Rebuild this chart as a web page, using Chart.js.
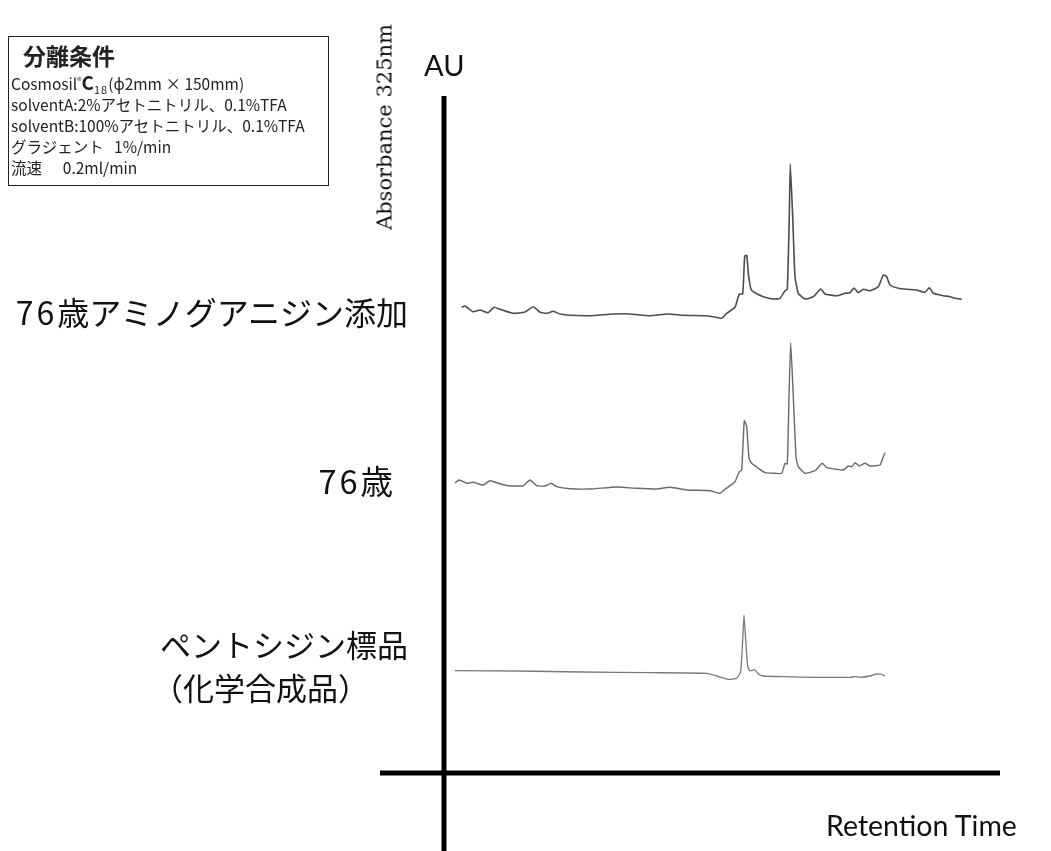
<!DOCTYPE html>
<html lang="ja">
<head>
<meta charset="utf-8">
<script src="https://cdn.jsdelivr.net/npm/chart.js@4.4.1/dist/chart.umd.min.js"></script>
<style>
  html, body { margin: 0; padding: 0; background: #fff; }
  #wrap { position: relative; width: 1051px; height: 851px; overflow: hidden; }
  #chart { position: absolute; left: 0; top: 0; }
  .lbl { position: absolute; white-space: nowrap; color: #111; line-height: 1; }
  .jp { font-family: "Noto Sans CJK JP", "Noto Sans", sans-serif; }
  .num { letter-spacing: 3px; }
  #cond { position: absolute; left: 8px; top: 36px; width: 319px; height: 148px; border: 1px solid #222; }
  #cond .row { position: absolute; left: 2px; font-size: 15.5px; white-space: nowrap; color: #222; line-height: 1; }
  .sup { position: relative; top: -6px; font-size: 9px; }
  .sub { position: relative; top: 4px; font-size: 11px; letter-spacing: 1px; }
</style>
</head>
<body>
<div id="wrap">
  <canvas id="chart" width="1051" height="851"></canvas>

  <div id="cond" class="jp">
    <div class="row" style="left:14px; top:7px; font-size:23px; font-weight:bold;">分離条件</div>
    <div class="row" style="top:35px;">Cosmosil<span class="sup">®</span><b style="font-size:19px;">C</b><span class="sub">18</span>(ϕ2mm × 150mm)</div>
    <div class="row" style="top:60px;">solventA:2%アセトニトリル、0.1%TFA</div>
    <div class="row" style="top:81px;">solventB:100%アセトニトリル、0.1%TFA</div>
    <div class="row" style="top:102px;">グラジェント&nbsp;&nbsp;&nbsp;1%/min</div>
    <div class="row" style="top:123px;">流速&nbsp;&nbsp;&nbsp;&nbsp;&nbsp;&nbsp;0.2ml/min</div>
  </div>

  <div class="lbl" style="font-family:'DejaVu Serif', serif; font-size:21px; left:385px; top:127px; transform: translate(-50%, -50%) rotate(-90deg);">Absorbance 325nm</div>
  <div class="lbl" style="font-family:Lato, 'Open Sans', sans-serif; font-size:29px; left:424px; top:50px;">AU</div>
  <div class="lbl" style="font-family:Lato, 'Open Sans', sans-serif; font-size:28.5px; left:826px; top:811px;">Retention Time</div>

  <div class="lbl jp" style="font-size:32px; right:643px; top:295px;"><span class="num">76</span>歳アミノグアニジン添加</div>
  <div class="lbl jp" style="font-size:32.5px; right:658px; top:464px;"><span class="num">76</span>歳</div>
  <div class="lbl jp" style="font-size:31px; right:643px; top:628px;">ペントシジン標品</div>
  <div class="lbl jp" style="font-size:31px; left:152px; top:671px;">（化学合成品）</div>
</div>

<script>
// --- 1. data (retention time, absorbance; arbitrary units) ---

// 76歳アミノグアニジン添加
const addedTime = [1.77, 2.1, 2.9, 3.6, 4.4, 5.0, 5.6, 6.9, 8.1, 8.93, 9.6, 10.27, 10.93, 11.6, 12.6, 14.6,
  16.93, 18.6, 20.6, 22.43, 23.93, 25.93, 26.93, 27.77, 28.27, 29.1, 29.53, 29.87, 30.07, 30.27, 30.47,
  30.73, 31.1, 31.93, 32.93, 33.6, 34.1, 34.33, 34.53, 34.63, 34.87, 35.1, 35.43, 36.1, 36.93, 37.67,
  38.1, 39.27, 40.1, 40.6, 41.0, 41.43, 41.93, 42.6, 43.43, 43.93, 44.27, 44.6, 45.43, 46.27, 47.27,
  48.1, 48.53, 48.93, 49.93, 50.6, 51.1, 51.77];
const addedAU = [46.57, 46.7, 46.13, 46.3, 46.03, 46.57, 46.37, 45.97, 46.1, 46.63, 46.07, 45.97, 46.17, 45.9, 45.77, 45.73,
  45.9, 45.9, 45.73, 45.9, 45.77, 45.73, 45.63, 45.47, 45.97, 46.57, 47.9, 47.9, 51.7, 51.77, 49.63,
  48.3, 48.03, 47.63, 47.4, 47.47, 48.23, 48.37, 55.63, 60.9, 55.63, 49.63, 47.97, 47.4, 47.63, 48.4,
  47.9, 47.73, 47.97, 48.03, 48.5, 48.03, 48.37, 48.23, 48.63, 49.8, 49.63, 48.8, 48.47, 48.37, 48.3,
  48.07, 48.53, 47.97, 47.73, 47.63, 47.47, 47.37];

// 76歳
const agedTime = [1.1, 1.53, 2.27, 2.93, 3.93, 4.6, 5.43, 6.43, 7.93, 8.6, 9.27, 10.1, 10.7, 11.27, 12.6, 14.6,
  17.27, 19.27, 21.27, 22.6, 24.27, 26.6, 27.6, 28.1, 29.1, 29.53, 29.77, 30.03, 30.27, 30.5, 30.77,
  31.43, 32.1, 33.1, 33.77, 34.1, 34.33, 34.5, 34.67, 34.93, 35.2, 35.43, 36.1, 37.1, 37.83, 38.27,
  39.27, 39.93, 40.43, 40.77, 41.1, 41.53, 42.1, 42.6, 43.6, 43.87, 44.1];
const agedAU = [29.03, 29.3, 28.97, 29.07, 28.8, 29.23, 28.97, 28.73, 28.73, 29.3, 28.73, 28.7, 28.97, 28.63, 28.43, 28.4,
  28.6, 28.47, 28.4, 28.57, 28.3, 28.23, 27.97, 28.37, 29.13, 30.13, 30.3, 35.23, 34.63, 31.47, 30.97,
  30.47, 30.03, 29.97, 29.97, 30.97, 30.9, 37.63, 43.03, 37.63, 31.63, 30.63, 29.97, 30.23, 30.97, 30.53,
  30.37, 30.3, 30.7, 30.63, 31.03, 30.7, 30.97, 30.7, 30.8, 31.47, 32.03];

// ペントシジン標品（化学合成品）
const stdTime = [1.1, 7.27, 13.93, 20.6, 26.27, 27.27, 28.43, 29.27, 29.67, 29.87, 30.0, 30.17, 30.37, 30.6,
  31.1, 31.43, 31.93, 33.93, 37.27, 40.6, 41.1, 41.6, 42.6, 43.27, 43.77, 44.1];
const stdAU = [10.23, 10.2, 10.1, 10.03, 9.97, 9.7, 9.37, 9.47, 10.13, 13.3, 15.8, 13.3, 10.63, 10.23,
  10.3, 9.9, 9.7, 9.63, 9.57, 9.57, 9.63, 9.57, 9.7, 9.9, 9.87, 9.7];

// --- 2. helpers ---

function toPoints(times, values) {
  return times.map((t, i) => ({ x: t, y: values[i] }));
}

// draws the two heavy axis lines through (0, 0), spanning the whole plot area
const axisCross = {
  id: "axisCross",
  beforeDatasetsDraw(chart) {
    const { ctx, chartArea, scales } = chart;
    const x0 = scales.x.getPixelForValue(0);
    const y0 = scales.y.getPixelForValue(0);
    ctx.save();
    ctx.strokeStyle = "#000";
    ctx.lineWidth = 5;
    ctx.beginPath();
    ctx.moveTo(x0, chartArea.top);
    ctx.lineTo(x0, chartArea.bottom);
    ctx.moveTo(chartArea.left, y0);
    ctx.lineTo(chartArea.right, y0);
    ctx.stroke();
    ctx.restore();
  }
};

// --- 3. chart ---

const chartCanvas = document.getElementById("chart").getContext("2d");

const traceStyle = (color, width) => ({
  borderColor: color,
  borderWidth: width,
  pointRadius: 0,
  tension: 0.15,
  fill: false
});

new Chart(chartCanvas, {
  type: "line",
  data: {
    datasets: [
      { label: "76歳アミノグアニジン添加", data: toPoints(addedTime, addedAU), ...traceStyle("#4d4d4d", 1.6) },
      { label: "76歳", data: toPoints(agedTime, agedAU), ...traceStyle("#6a6a6a", 1.4) },
      { label: "ペントシジン標品（化学合成品）", data: toPoints(stdTime, stdAU), ...traceStyle("#7a7a7a", 1.3) }
    ]
  },
  options: {
    responsive: false,
    animation: false,
    layout: { padding: { left: 380, right: 51, top: 96, bottom: 0 } },
    scales: {
      x: { type: "linear", min: -6.4, max: 55.6, display: false },
      y: { type: "linear", min: -7.8, max: 67.7, display: false }
    },
    plugins: {
      legend: { display: false },
      tooltip: { enabled: false }
    }
  },
  plugins: [axisCross]
});
</script>
</body>
</html>
